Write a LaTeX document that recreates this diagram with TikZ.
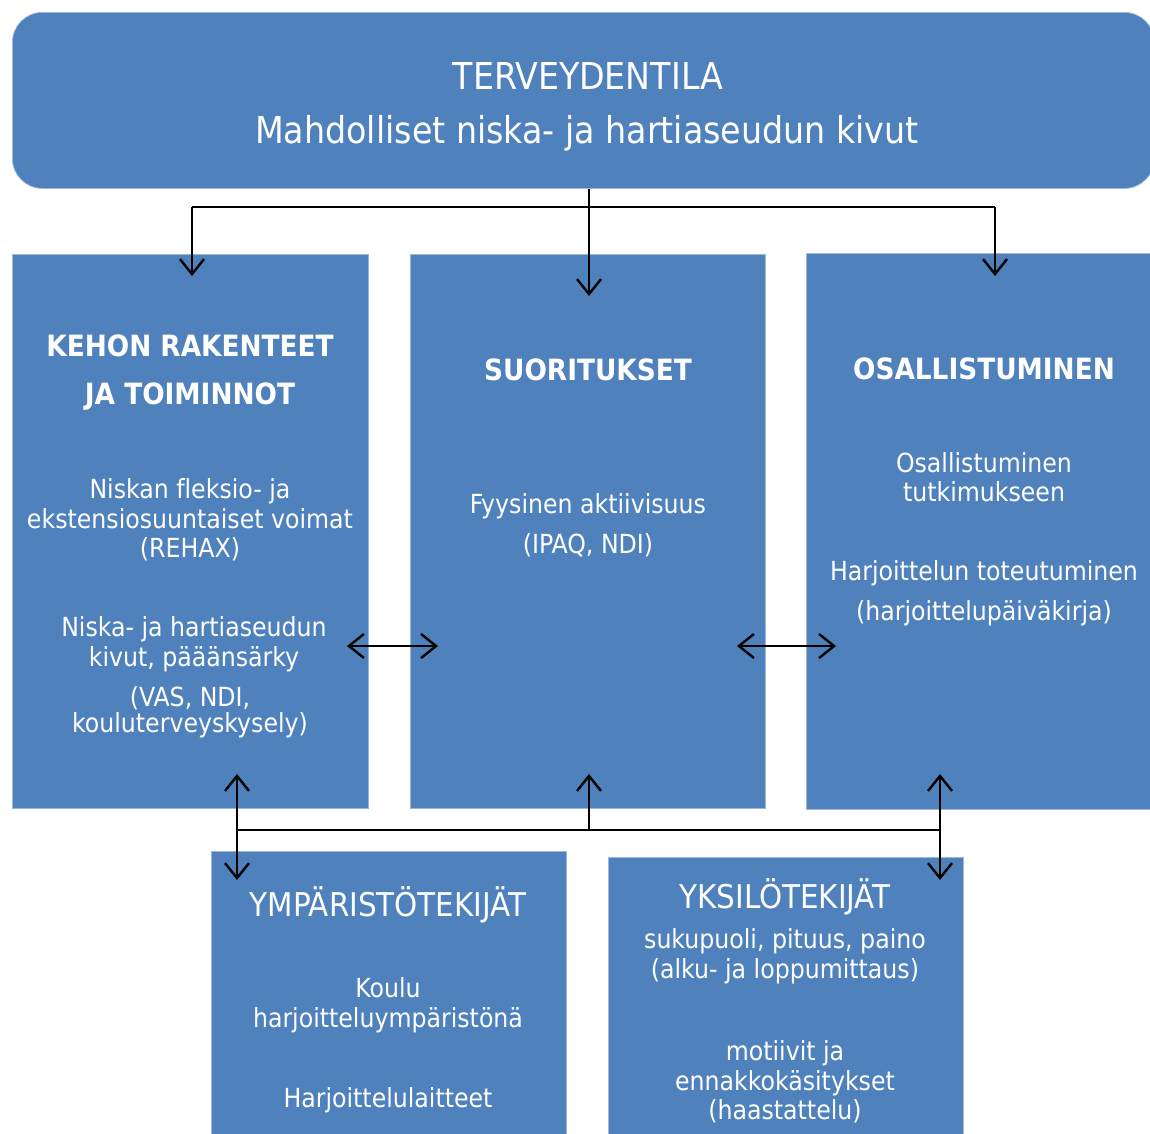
\documentclass[tikz,border=0pt]{standalone}
\usepackage{fontspec}
\setmainfont[Ligatures=NoCommon]{DejaVu Sans Condensed}
\usetikzlibrary{arrows.meta}
\definecolor{boxblue}{HTML}{4F81BD}
\definecolor{boxedge}{HTML}{9DB7DA}
\begin{document}
\begin{tikzpicture}[x=1pt,y=-1pt,
  panel/.style={fill=boxblue, draw=boxedge, line width=0.8pt, inner sep=0pt, anchor=north west},
  body/.style={text=white, align=center, inner sep=0pt, font=\fontsize{26.3}{29.5}\selectfont},
  bodywide/.style={body, font=\fontsize{26.3}{40}\selectfont},
  head/.style={text=white, align=center, inner sep=0pt, font=\fontsize{29.3}{48}\selectfont\bfseries},
  headplain/.style={text=white, align=center, inner sep=0pt, font=\fontsize{32.7}{40}\selectfont},
  toptext/.style={text=white, align=center, inner sep=0pt, font=\fontsize{37}{44}\selectfont},
  link/.style={line width=2.4pt, draw=black},
  onetip/.style={-{Straight Barb[length=15pt,width=24pt]}},
  twotips/.style={{Straight Barb[length=15pt,width=24pt]}-{Straight Barb[length=15pt,width=24pt]}}
]
\useasboundingbox (0,0) rectangle (1150,1133);

% boxes
\node[panel, rounded corners=30pt, minimum width=1142pt, minimum height=176pt] (top) at (12,12) {};
\node[panel, minimum width=356pt, minimum height=554pt] (kehon) at (12,254) {};
\node[panel, minimum width=355pt, minimum height=554pt] (suor) at (410,254) {};
\node[panel, minimum width=350pt, minimum height=556pt] (osal) at (806,253) {};
\node[panel, minimum width=355pt, minimum height=290pt] (ymp) at (211,851) {};
\node[panel, minimum width=355pt, minimum height=284pt] (yks) at (608,857) {};

% health condition
\node[toptext] (tHead) at (588,76) {TERVEYDENTILA};
\node[toptext] (tBody) at (587,133) {Mahdolliset niska- ja hartiaseudun kivut};

% body structures and functions
\node[head] (kHead) at (190,373) {KEHON RAKENTEET\\JA TOIMINNOT};
\node[body] (kBody1) at (190,520) {Niskan fleksio- ja\\ekstensiosuuntaiset voimat\\(REHAX)};
\node[body] (kBody2) at (194,644) {Niska- ja hartiaseudun\\kivut, pääänsärky};
\node[body, font=\fontsize{26.3}{26.5}\selectfont] (kBody3) at (190,712) {(VAS, NDI,\\kouluterveyskysely)};

% activities
\node[head] (sHead) at (588,370) {SUORITUKSET};
\node[bodywide] (sBody) at (588,525) {Fyysinen aktiivisuus\\(IPAQ, NDI)};

% participation
\node[head] (oHead) at (984,369) {OSALLISTUMINEN};
\node[body] (oBody1) at (984,477) {Osallistuminen\\tutkimukseen};
\node[bodywide] (oBody2) at (984,593) {Harjoittelun toteutuminen\\(harjoittelupäiväkirja)};

% environmental factors
\node[headplain] (yHead) at (388,905) {YMPÄRISTÖTEKIJÄT};
\node[body] (yBody1) at (388,1005) {Koulu\\harjoitteluympäristönä};
\node[body] (yBody2) at (388,1100) {Harjoittelulaitteet};

% personal factors
\node[headplain] (pHead) at (785,897) {YKSILÖTEKIJÄT};
\node[body] (pBody1) at (785,956) {sukupuoli, pituus, paino\\(alku- ja loppumittaus)};
\node[body] (pBody2) at (785,1082) {motiivit ja\\ennakkokäsitykset\\(haastattelu)};

% junctions and arrow ends
\coordinate (tL) at (192,207);
\coordinate (tM) at (589,207);
\coordinate (tR) at (995,207);
\coordinate (kIn) at (192,276);
\coordinate (sIn) at (589,296);
\coordinate (oIn) at (995,276);
\coordinate (ks1) at (347,646);
\coordinate (ks2) at (438,646);
\coordinate (so1) at (737,646);
\coordinate (so2) at (836,646);
\coordinate (bL) at (237,830);
\coordinate (bM) at (589,830);
\coordinate (bR) at (940,830);
\coordinate (bLup) at (237,774);
\coordinate (bLdn) at (237,880);
\coordinate (bMup) at (589,774);
\coordinate (bRup) at (940,774);
\coordinate (bRdn) at (940,880);

% connectors from the health condition
\draw[link] (tL) -- (tR);
\draw[link, onetip] (top.south -| tM) -- (sIn);
\draw[link, onetip] (tL) -- (kIn);
\draw[link, onetip] (tR) -- (oIn);

% links between the three components
\draw[link, twotips] (ks1) -- (ks2);
\draw[link, twotips] (so1) -- (so2);

% links to the contextual factors
\draw[link] (bL) -- (bR);
\draw[link, twotips] (bLup) -- (bLdn);
\draw[link, onetip] (bM) -- (bMup);
\draw[link, twotips] (bRup) -- (bRdn);
\end{tikzpicture}
\end{document}
